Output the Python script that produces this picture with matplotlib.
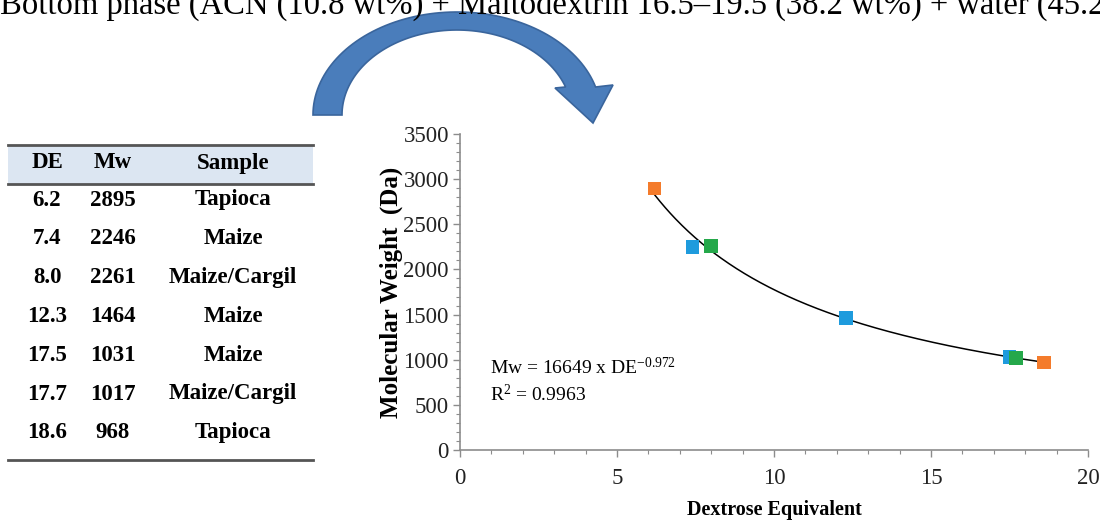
import numpy as np
import matplotlib
matplotlib.use("Agg")
import matplotlib.pyplot as plt
from matplotlib.patches import Polygon, Rectangle
from matplotlib.ticker import MultipleLocator

# Maltodextrin samples: dextrose equivalent vs molecular weight
de_values = [6.2, 7.4, 8.0, 12.3, 17.5, 17.7, 18.6]
mw_values = [2895, 2246, 2261, 1464, 1031, 1017, 968]
samples = ["Tapioca", "Maize", "Maize/Cargil", "Maize", "Maize", "Maize/Cargil", "Tapioca"]

# Power-law trendline  Mw = a * DE^b
fit_a = 16649
fit_b = -0.972
fit_r2 = 0.9963

sample_colors = {"Tapioca": "#F47B2B", "Maize": "#1E9BDD", "Maize/Cargil": "#25A84A"}

title_text = "Bottom phase (ACN (10.8 wt%) + Maltodextrin 16.5\u201319.5 (38.2 wt%) + water (45.2 wt%))"

SERIF = ["Liberation Serif", "DejaVu Serif"]
plt.rcParams.update({
    "font.family": SERIF,
    "mathtext.fontset": "custom",
    "mathtext.rm": "Liberation Serif",
    "mathtext.it": "Liberation Serif:italic",
    "mathtext.bf": "Liberation Serif:bold",
})

W, H = 1100, 520
fig = plt.figure(figsize=(W / 100, H / 100), dpi=100)

# overlay in pixel units for the title line, the table and the arrow
bg = fig.add_axes([0, 0, 1, 1], zorder=0)
bg.set_xlim(0, W)
bg.set_ylim(H, 0)
bg.axis("off")

bg.text(0, 14, title_text, fontsize=23.5, va="baseline", ha="left", color="black")

# curved arrow from the table to the chart
cx, cy = 457, 115
oa, ob = 144, 103   # outer ellipse
ia, ib = 115, 85    # inner ellipse
end_y = 87
t_out = np.linspace(np.pi, np.arcsin((cy - end_y) / ob), 80)
t_in = np.linspace(np.arcsin((cy - end_y) / ib), np.pi, 80)
outer = np.column_stack([cx + oa * np.cos(t_out), cy - ob * np.sin(t_out)])
inner = np.column_stack([cx + ia * np.cos(t_in), cy - ib * np.sin(t_in)])
head = np.array([[613, 85], [593, 123], [555, 88]])
arrow_pts = np.vstack([outer, head, inner])
bg.add_patch(Polygon(arrow_pts, closed=True, facecolor="#4A7DBB",
                     edgecolor="#3A659C", linewidth=1.2))

# table
tbl_left, tbl_right = 8, 313
tbl_top, hdr_bottom, tbl_bottom = 145, 184, 460
bg.add_patch(Rectangle((tbl_left, tbl_top), tbl_right - tbl_left, hdr_bottom - tbl_top,
                       facecolor="#DCE6F2", edgecolor="none"))
for yl in (tbl_top, hdr_bottom, tbl_bottom):
    bg.plot([tbl_left, tbl_right], [yl, yl], color="#555555", linewidth=2)

col_x = [47, 113, 233]
headers = ["DE", "Mw", "Sample"]
for x, h in zip(col_x, headers):
    bg.text(x, 163, h, fontsize=16.5, fontweight="bold", ha="center", va="center")

row_y0, row_step = 200, 38.8
for i, (de, mw, smp) in enumerate(zip(de_values, mw_values, samples)):
    y = row_y0 + i * row_step
    bg.text(col_x[0], y, f"{de:.1f}", fontsize=16.5, fontweight="bold", ha="center", va="center")
    bg.text(col_x[1], y, f"{mw}", fontsize=16.5, fontweight="bold", ha="center", va="center")
    bg.text(col_x[2], y, smp, fontsize=16.5, fontweight="bold", ha="center", va="center")

# chart
ax = fig.add_axes([460 / W, 1 - 450 / H, 628 / W, 316 / H], zorder=1)
ax.patch.set_alpha(0)

xs = np.linspace(min(de_values), max(de_values), 300)
ax.plot(xs, fit_a * xs ** fit_b, color="black", linewidth=1.1, zorder=2)
ax.scatter(de_values, mw_values, c=[sample_colors[s] for s in samples],
           marker="s", s=95, linewidths=0, zorder=3)

ax.set_xlim(0, 20)
ax.set_ylim(0, 3500)
ax.xaxis.set_major_locator(MultipleLocator(5))
ax.xaxis.set_minor_locator(MultipleLocator(1))
ax.yaxis.set_major_locator(MultipleLocator(500))
ax.yaxis.set_minor_locator(MultipleLocator(100))

for side in ("top", "right"):
    ax.spines[side].set_visible(False)
for side in ("left", "bottom"):
    ax.spines[side].set_color("#8C8C8C")
    ax.spines[side].set_linewidth(1.2)

ax.tick_params(which="major", length=5, width=1, color="#8C8C8C",
               labelsize=16.5, labelcolor="#222222")
ax.tick_params(axis="x", which="major", pad=8)
ax.tick_params(axis="y", which="major", pad=3)
ax.tick_params(which="minor", length=3, width=0.8, color="#8C8C8C")

ax.set_xlabel("Dextrose Equivalent", fontsize=14.5, fontweight="bold", labelpad=8)
ax.set_ylabel("Molecular Weight  (Da)", fontsize=18, fontweight="bold", labelpad=0)

ax.text(0.95, 910, f"Mw = {fit_a} x DE$^{{{fit_b}}}$", fontsize=14, va="center", ha="left")
ax.text(0.95, 610, f"R$^2$ = {fit_r2}", fontsize=14, va="center", ha="left")

fig.savefig("out.png", dpi=100)
